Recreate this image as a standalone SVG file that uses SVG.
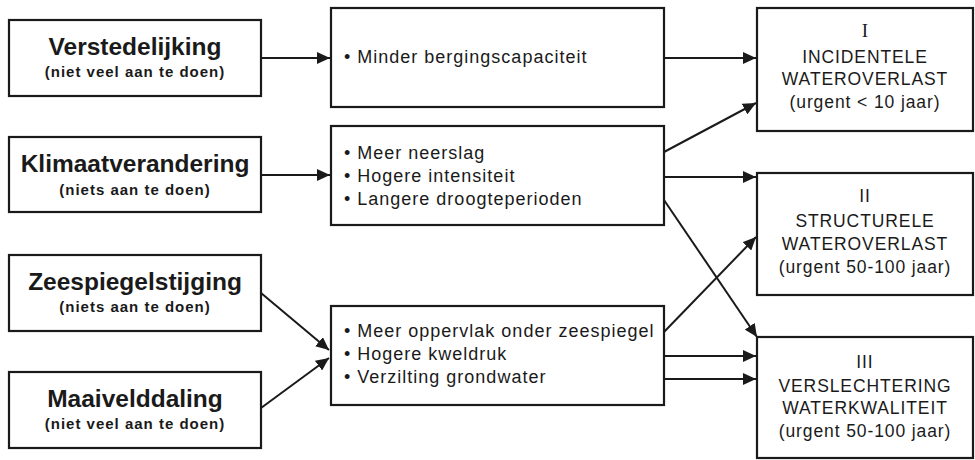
<svg xmlns="http://www.w3.org/2000/svg" width="975" height="460" viewBox="0 0 975 460">
<style>
.box{fill:#fff;stroke:#1a1a1a;stroke-width:2.2}
.t{font-family:"Liberation Sans",Arial,sans-serif;fill:#1a1a1a}
.title{font-size:24.5px;font-weight:bold;text-anchor:middle}
.sub{font-size:15px;font-weight:bold;text-anchor:middle;letter-spacing:1px}
.item{font-size:18px;letter-spacing:1px}
.res{font-size:17.5px;text-anchor:middle;letter-spacing:0.9px}
.num{font-family:"Liberation Serif","Times New Roman",serif;font-size:19px;text-anchor:middle;fill:#1a1a1a}
.c{stroke:#1a1a1a;stroke-width:2;fill:none;marker-end:url(#ah)}
</style>
<defs>
<marker id="ah" markerUnits="userSpaceOnUse" markerWidth="14" markerHeight="12" refX="13" refY="6" orient="auto" viewBox="0 0 14 12">
<path d="M0,0 L13,6 L0,12 z" fill="#1a1a1a"/>
</marker>
</defs>
<rect width="975" height="460" fill="#fff"/>
<g id="connectors">
<line class="c" x1="261" y1="58" x2="330" y2="58"/>
<line class="c" x1="261" y1="175" x2="330" y2="175"/>
<line class="c" x1="261" y1="293" x2="329" y2="350"/>
<line class="c" x1="261" y1="408" x2="329" y2="358"/>
<line class="c" x1="664" y1="58" x2="756" y2="58"/>
<line class="c" x1="664" y1="152" x2="756" y2="103"/>
<line class="c" x1="664" y1="177" x2="756" y2="177"/>
<line class="c" x1="664" y1="200" x2="757" y2="337"/>
<line class="c" x1="664" y1="332" x2="756" y2="237"/>
<line class="c" x1="664" y1="356" x2="756" y2="356"/>
<line class="c" x1="664" y1="379" x2="756" y2="379"/>
</g>
<g id="verstedelijking">
<rect class="box" x="9" y="20" width="252" height="76"/>
<text class="t title" x="135" y="55">Verstedelijking</text>
<text class="t sub" x="135" y="77">(niet veel aan te doen)</text>
</g>
<g id="klimaatverandering">
<rect class="box" x="9" y="137" width="252" height="75"/>
<text class="t title" x="135" y="172">Klimaatverandering</text>
<text class="t sub" x="135" y="195">(niets aan te doen)</text>
</g>
<g id="zeespiegelstijging">
<rect class="box" x="9" y="255" width="252" height="76"/>
<text class="t title" x="135" y="290">Zeespiegelstijging</text>
<text class="t sub" x="135" y="312">(niets aan te doen)</text>
</g>
<g id="maaivelddaling">
<rect class="box" x="9" y="372" width="252" height="76"/>
<text class="t title" x="135" y="407">Maaivelddaling</text>
<text class="t sub" x="135" y="429">(niet veel aan te doen)</text>
</g>
<g id="effect1">
<rect class="box" x="331" y="8" width="333" height="99"/>
<text class="t item" x="344" y="63">• Minder bergingscapaciteit</text>
</g>
<g id="effect2">
<rect class="box" x="331" y="126" width="333" height="99"/>
<text class="t item" x="344" y="159">• Meer neerslag</text>
<text class="t item" x="344" y="182">• Hogere intensiteit</text>
<text class="t item" x="344" y="205">• Langere droogteperioden</text>
</g>
<g id="effect3">
<rect class="box" x="331" y="306" width="333" height="99"/>
<text class="t item" x="344" y="337">• Meer oppervlak onder zeespiegel</text>
<text class="t item" x="344" y="360">• Hogere kweldruk</text>
<text class="t item" x="344" y="383">• Verzilting grondwater</text>
</g>
<g id="result1">
<rect class="box" x="757" y="8" width="216" height="123"/>
<text class="num" x="865" y="37">I</text>
<text class="t res" x="865" y="63">INCIDENTELE</text>
<text class="t res" x="865" y="85">WATEROVERLAST</text>
<text class="t res" x="865" y="108">(urgent &lt; 10 jaar)</text>
</g>
<g id="result2">
<rect class="box" x="757" y="173" width="216" height="122"/>
<text class="t res" x="865" y="202">II</text>
<text class="t res" x="865" y="227">STRUCTURELE</text>
<text class="t res" x="865" y="250">WATEROVERLAST</text>
<text class="t res" x="865" y="273">(urgent 50-100 jaar)</text>
</g>
<g id="result3">
<rect class="box" x="757" y="337" width="216" height="121"/>
<text class="t res" x="865" y="368">III</text>
<text class="t res" x="865" y="392">VERSLECHTERING</text>
<text class="t res" x="865" y="414">WATERKWALITEIT</text>
<text class="t res" x="865" y="437">(urgent 50-100 jaar)</text>
</g>
</svg>
